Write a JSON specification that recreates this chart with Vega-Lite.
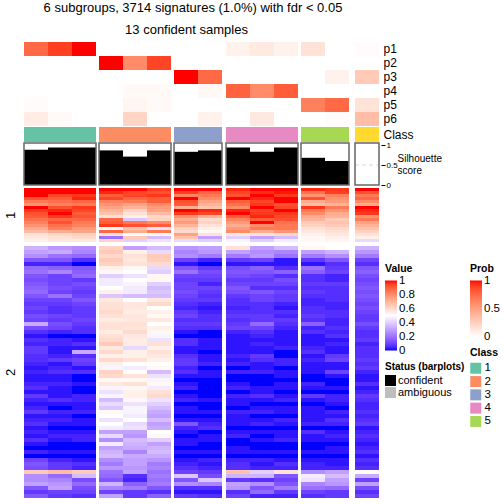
{"$schema":"https://vega.github.io/schema/vega-lite/v6.json","width":504,"height":504,"padding":0,"autosize":"none","background":"white",
"config":{"font":"Liberation Sans","view":{"stroke":null},"axis":{"grid":false},"legend":{"titleFontSize":10.5,"titleFontWeight":"bold","labelFontSize":11.5,"titleColor":"black","labelColor":"black","labelOverlap":false}},
"title":{"text":"6 subgroups, 3714 signatures (1.0%) with fdr < 0.05","fontSize":13,"fontWeight":"normal","offset":-15,"anchor":"middle","dx":-59},
"datasets":{
"g":[{"g":1,"f":1,"l":3},{"g":2,"f":4,"l":6},{"g":3,"f":7,"l":8},{"g":4,"f":9,"l":11},{"g":5,"f":12,"l":13},{"g":6,"f":14,"l":14}],
"p":[{"p":"p1","s":1,"v":0.75},{"p":"p1","s":2,"v":0.9},{"p":"p1","s":3,"v":1},{"p":"p1","s":9,"v":0.07},{"p":"p1","s":10,"v":0.11},{"p":"p1","s":11,"v":0.07},{"p":"p1","s":12,"v":0.15},{"p":"p1","s":14,"v":0.02},
{"p":"p2","s":4,"v":1},{"p":"p2","s":5,"v":0.6},{"p":"p2","s":6,"v":0.88},
{"p":"p3","s":7,"v":1},{"p":"p3","s":8,"v":0.75},{"p":"p3","s":13,"v":0.07},{"p":"p3","s":14,"v":0.28},
{"p":"p4","s":5,"v":0.03},{"p":"p4","s":6,"v":0.03},{"p":"p4","s":8,"v":0.04},{"p":"p4","s":9,"v":0.78},{"p":"p4","s":10,"v":0.6},{"p":"p4","s":11,"v":0.8},
{"p":"p5","s":1,"v":0.02},{"p":"p5","s":5,"v":0.05},{"p":"p5","s":6,"v":0.03},{"p":"p5","s":12,"v":0.65},{"p":"p5","s":13,"v":0.75},{"p":"p5","s":14,"v":0.15},
{"p":"p6","s":1,"v":0.1},{"p":"p6","s":2,"v":0.03},{"p":"p6","s":5,"v":0.22},{"p":"p6","s":8,"v":0.07},{"p":"p6","s":10,"v":0.12},{"p":"p6","s":13,"v":0.02},{"p":"p6","s":14,"v":0.35}],
"sil":[{"s":1,"v":0.88,"st":"confident"},{"s":2,"v":0.94,"st":"confident"},{"s":3,"v":0.94,"st":"confident"},{"s":4,"v":0.865,"st":"confident"},{"s":5,"v":0.71,"st":"confident"},{"s":6,"v":0.865,"st":"confident"},{"s":7,"v":0.83,"st":"confident"},{"s":8,"v":0.865,"st":"confident"},{"s":9,"v":0.94,"st":"confident"},{"s":10,"v":0.83,"st":"confident"},{"s":11,"v":0.94,"st":"confident"},{"s":12,"v":0.68,"st":"confident"},{"s":13,"v":0.6,"st":"confident"},{"s":14,"v":0,"st":"confident"}],
"h1":[
{"s":1,"r":1,"v":100},{"s":2,"r":1,"v":100},{"s":3,"r":1,"v":100},{"s":4,"r":1,"v":100},{"s":5,"r":1,"v":100},{"s":6,"r":1,"v":96},{"s":7,"r":1,"v":100},{"s":8,"r":1,"v":100},{"s":9,"r":1,"v":98},{"s":10,"r":1,"v":100},{"s":11,"r":1,"v":100},{"s":12,"r":1,"v":98},{"s":13,"r":1,"v":96},{"s":14,"r":1,"v":100},
{"s":1,"r":2,"v":100},{"s":2,"r":2,"v":100},{"s":3,"r":2,"v":100},{"s":4,"r":2,"v":98},{"s":5,"r":2,"v":94},{"s":6,"r":2,"v":92},{"s":7,"r":2,"v":95},{"s":8,"r":2,"v":88},{"s":9,"r":2,"v":94},{"s":10,"r":2,"v":97},{"s":11,"r":2,"v":99},{"s":12,"r":2,"v":85},{"s":13,"r":2,"v":95},{"s":14,"r":2,"v":92},
{"s":1,"r":3,"v":100},{"s":2,"r":3,"v":94},{"s":3,"r":3,"v":96},{"s":4,"r":3,"v":90},{"s":5,"r":3,"v":94},{"s":6,"r":3,"v":96},{"s":7,"r":3,"v":82},{"s":8,"r":3,"v":84},{"s":9,"r":3,"v":92},{"s":10,"r":3,"v":100},{"s":11,"r":3,"v":96},{"s":12,"r":3,"v":78},{"s":13,"r":3,"v":82},{"s":14,"r":3,"v":84},
{"s":1,"r":4,"v":92},{"s":2,"r":4,"v":90},{"s":3,"r":4,"v":98},{"s":4,"r":4,"v":94},{"s":5,"r":4,"v":88},{"s":6,"r":4,"v":90},{"s":7,"r":4,"v":100},{"s":8,"r":4,"v":80},{"s":9,"r":4,"v":100},{"s":10,"r":4,"v":98},{"s":11,"r":4,"v":100},{"s":12,"r":4,"v":92},{"s":13,"r":4,"v":78},{"s":14,"r":4,"v":88},
{"s":1,"r":5,"v":84},{"s":2,"r":5,"v":86},{"s":3,"r":5,"v":88},{"s":4,"r":5,"v":82},{"s":5,"r":5,"v":84},{"s":6,"r":5,"v":90},{"s":7,"r":5,"v":92},{"s":8,"r":5,"v":74},{"s":9,"r":5,"v":90},{"s":10,"r":5,"v":94},{"s":11,"r":5,"v":100},{"s":12,"r":5,"v":72},{"s":13,"r":5,"v":76},{"s":14,"r":5,"v":80},
{"s":1,"r":6,"v":78},{"s":2,"r":6,"v":82},{"s":3,"r":6,"v":84},{"s":4,"r":6,"v":78},{"s":5,"r":6,"v":74},{"s":6,"r":6,"v":80},{"s":7,"r":6,"v":90},{"s":8,"r":6,"v":70},{"s":9,"r":6,"v":86},{"s":10,"r":6,"v":96},{"s":11,"r":6,"v":92},{"s":12,"r":6,"v":68},{"s":13,"r":6,"v":70},{"s":14,"r":6,"v":72},
{"s":1,"r":7,"v":100},{"s":2,"r":7,"v":92},{"s":3,"r":7,"v":96},{"s":4,"r":7,"v":74},{"s":5,"r":7,"v":70},{"s":6,"r":7,"v":76},{"s":7,"r":7,"v":72},{"s":8,"r":7,"v":66},{"s":9,"r":7,"v":80},{"s":10,"r":7,"v":100},{"s":11,"r":7,"v":94},{"s":12,"r":7,"v":96},{"s":13,"r":7,"v":84},{"s":14,"r":7,"v":100},
{"s":1,"r":8,"v":96},{"s":2,"r":8,"v":98},{"s":3,"r":8,"v":94},{"s":4,"r":8,"v":70},{"s":5,"r":8,"v":62},{"s":6,"r":8,"v":74},{"s":7,"r":8,"v":100},{"s":8,"r":8,"v":98},{"s":9,"r":8,"v":98},{"s":10,"r":8,"v":94},{"s":11,"r":8,"v":100},{"s":12,"r":8,"v":84},{"s":13,"r":8,"v":78},{"s":14,"r":8,"v":98},
{"s":1,"r":9,"v":92},{"s":2,"r":9,"v":100},{"s":3,"r":9,"v":90},{"s":4,"r":9,"v":66},{"s":5,"r":9,"v":58},{"s":6,"r":9,"v":68},{"s":7,"r":9,"v":96},{"s":8,"r":9,"v":94},{"s":9,"r":9,"v":100},{"s":10,"r":9,"v":96},{"s":11,"r":9,"v":96},{"s":12,"r":9,"v":80},{"s":13,"r":9,"v":72},{"s":14,"r":9,"v":96},
{"s":1,"r":10,"v":90},{"s":2,"r":10,"v":96},{"s":3,"r":10,"v":92},{"s":4,"r":10,"v":58},{"s":5,"r":10,"v":54},{"s":6,"r":10,"v":60},{"s":7,"r":10,"v":78},{"s":8,"r":10,"v":70},{"s":9,"r":10,"v":90},{"s":10,"r":10,"v":98},{"s":11,"r":10,"v":94},{"s":12,"r":10,"v":72},{"s":13,"r":10,"v":70},{"s":14,"r":10,"v":78},
{"s":1,"r":11,"v":86},{"s":2,"r":11,"v":88},{"s":3,"r":11,"v":88},{"s":4,"r":11,"v":88},{"s":5,"r":11,"v":38},{"s":6,"r":11,"v":62},{"s":7,"r":11,"v":72},{"s":8,"r":11,"v":60},{"s":9,"r":11,"v":82},{"s":10,"r":11,"v":90},{"s":11,"r":11,"v":92},{"s":12,"r":11,"v":70},{"s":13,"r":11,"v":64},{"s":14,"r":11,"v":84},
{"s":1,"r":12,"v":82},{"s":2,"r":12,"v":92},{"s":3,"r":12,"v":84},{"s":4,"r":12,"v":90},{"s":5,"r":12,"v":84},{"s":6,"r":12,"v":80},{"s":7,"r":12,"v":76},{"s":8,"r":12,"v":62},{"s":9,"r":12,"v":76},{"s":10,"r":12,"v":100},{"s":11,"r":12,"v":86},{"s":12,"r":12,"v":64},{"s":13,"r":12,"v":66},{"s":14,"r":12,"v":74},
{"s":1,"r":13,"v":78},{"s":2,"r":13,"v":86},{"s":3,"r":13,"v":82},{"s":4,"r":13,"v":96},{"s":5,"r":13,"v":92},{"s":6,"r":13,"v":90},{"s":7,"r":13,"v":70},{"s":8,"r":13,"v":58},{"s":9,"r":13,"v":72},{"s":10,"r":13,"v":80},{"s":11,"r":13,"v":84},{"s":12,"r":13,"v":62},{"s":13,"r":13,"v":64},{"s":14,"r":13,"v":70},
{"s":1,"r":14,"v":72},{"s":2,"r":14,"v":82},{"s":3,"r":14,"v":76},{"s":4,"r":14,"v":52},{"s":5,"r":14,"v":66},{"s":6,"r":14,"v":44},{"s":7,"r":14,"v":62},{"s":8,"r":14,"v":54},{"s":9,"r":14,"v":76},{"s":10,"r":14,"v":84},{"s":11,"r":14,"v":84},{"s":12,"r":14,"v":58},{"s":13,"r":14,"v":60},{"s":14,"r":14,"v":66},
{"s":1,"r":15,"v":68},{"s":2,"r":15,"v":72},{"s":3,"r":15,"v":74},{"s":4,"r":15,"v":88},{"s":5,"r":15,"v":72},{"s":6,"r":15,"v":84},{"s":7,"r":15,"v":60},{"s":8,"r":15,"v":52},{"s":9,"r":15,"v":80},{"s":10,"r":15,"v":72},{"s":11,"r":15,"v":78},{"s":12,"r":15,"v":56},{"s":13,"r":15,"v":58},{"s":14,"r":15,"v":62},
{"s":1,"r":16,"v":58},{"s":2,"r":16,"v":60},{"s":3,"r":16,"v":62},{"s":4,"r":16,"v":58},{"s":5,"r":16,"v":50},{"s":6,"r":16,"v":52},{"s":7,"r":16,"v":74},{"s":8,"r":16,"v":58},{"s":9,"r":16,"v":56},{"s":10,"r":16,"v":58},{"s":11,"r":16,"v":60},{"s":12,"r":16,"v":54},{"s":13,"r":16,"v":56},{"s":14,"r":16,"v":58},
{"s":1,"r":17,"v":56},{"s":2,"r":17,"v":58},{"s":3,"r":17,"v":60},{"s":4,"r":17,"v":20},{"s":5,"r":17,"v":64},{"s":6,"r":17,"v":36},{"s":7,"r":17,"v":66},{"s":8,"r":17,"v":30},{"s":9,"r":17,"v":40},{"s":10,"r":17,"v":30},{"s":11,"r":17,"v":36},{"s":12,"r":17,"v":52},{"s":13,"r":17,"v":54},{"s":14,"r":17,"v":54},
{"s":1,"r":18,"v":54},{"s":2,"r":18,"v":56},{"s":3,"r":18,"v":56},{"s":4,"r":18,"v":62},{"s":5,"r":18,"v":40},{"s":6,"r":18,"v":44},{"s":7,"r":18,"v":42},{"s":8,"r":18,"v":40},{"s":9,"r":18,"v":48},{"s":10,"r":18,"v":40},{"s":11,"r":18,"v":46},{"s":12,"r":18,"v":52},{"s":13,"r":18,"v":53},{"s":14,"r":18,"v":42}],
"h2":[
{"s":1,"r":1,"v":34},{"s":2,"r":1,"v":28},{"s":3,"r":1,"v":26},{"s":4,"r":1,"v":62},{"s":5,"r":1,"v":30},{"s":6,"r":1,"v":36},{"s":7,"r":1,"v":28},{"s":8,"r":1,"v":30},{"s":9,"r":1,"v":58},{"s":10,"r":1,"v":30},{"s":11,"r":1,"v":36},{"s":12,"r":1,"v":52},{"s":13,"r":1,"v":50},{"s":14,"r":1,"v":34},
{"s":1,"r":2,"v":30},{"s":2,"r":2,"v":32},{"s":3,"r":2,"v":24},{"s":4,"r":2,"v":64},{"s":5,"r":2,"v":54},{"s":6,"r":2,"v":42},{"s":7,"r":2,"v":24},{"s":8,"r":2,"v":28},{"s":9,"r":2,"v":30},{"s":10,"r":2,"v":26},{"s":11,"r":2,"v":24},{"s":12,"r":2,"v":30},{"s":13,"r":2,"v":34},{"s":14,"r":2,"v":28},
{"s":1,"r":3,"v":26},{"s":2,"r":3,"v":20},{"s":3,"r":3,"v":18},{"s":4,"r":3,"v":60},{"s":5,"r":3,"v":58},{"s":6,"r":3,"v":64},{"s":7,"r":3,"v":26},{"s":8,"r":3,"v":22},{"s":9,"r":3,"v":22},{"s":10,"r":3,"v":28},{"s":11,"r":3,"v":20},{"s":12,"r":3,"v":22},{"s":13,"r":3,"v":26},{"s":14,"r":3,"v":22},
{"s":1,"r":4,"v":14},{"s":2,"r":4,"v":14},{"s":3,"r":4,"v":6},{"s":4,"r":4,"v":64},{"s":5,"r":4,"v":56},{"s":6,"r":4,"v":63},{"s":7,"r":4,"v":10},{"s":8,"r":4,"v":4},{"s":9,"r":4,"v":8},{"s":10,"r":4,"v":10},{"s":11,"r":4,"v":2},{"s":12,"r":4,"v":8},{"s":13,"r":4,"v":14},{"s":14,"r":4,"v":10},
{"s":1,"r":5,"v":4},{"s":2,"r":5,"v":4},{"s":3,"r":5,"v":0},{"s":4,"r":5,"v":62},{"s":5,"r":5,"v":58},{"s":6,"r":5,"v":60},{"s":7,"r":5,"v":2},{"s":8,"r":5,"v":0},{"s":9,"r":5,"v":2},{"s":10,"r":5,"v":2},{"s":11,"r":5,"v":2},{"s":12,"r":5,"v":2},{"s":13,"r":5,"v":6},{"s":14,"r":5,"v":6},
{"s":1,"r":6,"v":18},{"s":2,"r":6,"v":16},{"s":3,"r":6,"v":14},{"s":4,"r":6,"v":54},{"s":5,"r":6,"v":52},{"s":6,"r":6,"v":42},{"s":7,"r":6,"v":14},{"s":8,"r":6,"v":8},{"s":9,"r":6,"v":12},{"s":10,"r":6,"v":16},{"s":11,"r":6,"v":6},{"s":12,"r":6,"v":20},{"s":13,"r":6,"v":8},{"s":14,"r":6,"v":14},
{"s":1,"r":7,"v":20},{"s":2,"r":7,"v":24},{"s":3,"r":7,"v":16},{"s":4,"r":7,"v":52},{"s":5,"r":7,"v":50},{"s":6,"r":7,"v":40},{"s":7,"r":7,"v":20},{"s":8,"r":7,"v":12},{"s":9,"r":7,"v":14},{"s":10,"r":7,"v":14},{"s":11,"r":7,"v":16},{"s":12,"r":7,"v":16},{"s":13,"r":7,"v":10},{"s":14,"r":7,"v":16},
{"s":1,"r":8,"v":14},{"s":2,"r":8,"v":10},{"s":3,"r":8,"v":18},{"s":4,"r":8,"v":40},{"s":5,"r":8,"v":44},{"s":6,"r":8,"v":52},{"s":7,"r":8,"v":10},{"s":8,"r":8,"v":10},{"s":9,"r":8,"v":12},{"s":10,"r":8,"v":10},{"s":11,"r":8,"v":6},{"s":12,"r":8,"v":6},{"s":13,"r":8,"v":4},{"s":14,"r":8,"v":12},
{"s":1,"r":9,"v":12},{"s":2,"r":9,"v":10},{"s":3,"r":9,"v":8},{"s":4,"r":9,"v":46},{"s":5,"r":9,"v":50},{"s":6,"r":9,"v":52},{"s":7,"r":9,"v":8},{"s":8,"r":9,"v":8},{"s":9,"r":9,"v":8},{"s":10,"r":9,"v":8},{"s":11,"r":9,"v":12},{"s":12,"r":9,"v":6},{"s":13,"r":9,"v":4},{"s":14,"r":9,"v":10},
{"s":1,"r":10,"v":14},{"s":2,"r":10,"v":10},{"s":3,"r":10,"v":12},{"s":4,"r":10,"v":46},{"s":5,"r":10,"v":48},{"s":6,"r":10,"v":40},{"s":7,"r":10,"v":10},{"s":8,"r":10,"v":4},{"s":9,"r":10,"v":10},{"s":10,"r":10,"v":10},{"s":11,"r":10,"v":10},{"s":12,"r":10,"v":8},{"s":13,"r":10,"v":8},{"s":14,"r":10,"v":12},
{"s":1,"r":11,"v":16},{"s":2,"r":11,"v":12},{"s":3,"r":11,"v":10},{"s":4,"r":11,"v":50},{"s":5,"r":11,"v":46},{"s":6,"r":11,"v":36},{"s":7,"r":11,"v":10},{"s":8,"r":11,"v":10},{"s":9,"r":11,"v":14},{"s":10,"r":11,"v":6},{"s":11,"r":11,"v":6},{"s":12,"r":11,"v":6},{"s":13,"r":11,"v":6},{"s":14,"r":11,"v":14},
{"s":1,"r":12,"v":18},{"s":2,"r":12,"v":10},{"s":3,"r":12,"v":8},{"s":4,"r":12,"v":54},{"s":5,"r":12,"v":46},{"s":6,"r":12,"v":38},{"s":7,"r":12,"v":12},{"s":8,"r":12,"v":8},{"s":9,"r":12,"v":12},{"s":10,"r":12,"v":14},{"s":11,"r":12,"v":10},{"s":12,"r":12,"v":8},{"s":13,"r":12,"v":6},{"s":14,"r":12,"v":12},
{"s":1,"r":13,"v":14},{"s":2,"r":13,"v":20},{"s":3,"r":13,"v":10},{"s":4,"r":13,"v":38},{"s":5,"r":13,"v":36},{"s":6,"r":13,"v":36},{"s":7,"r":13,"v":10},{"s":8,"r":13,"v":6},{"s":9,"r":13,"v":8},{"s":10,"r":13,"v":10},{"s":11,"r":13,"v":8},{"s":12,"r":13,"v":6},{"s":13,"r":13,"v":6},{"s":14,"r":13,"v":14},
{"s":1,"r":14,"v":10},{"s":2,"r":14,"v":10},{"s":3,"r":14,"v":14},{"s":4,"r":14,"v":56},{"s":5,"r":14,"v":50},{"s":6,"r":14,"v":56},{"s":7,"r":14,"v":8},{"s":8,"r":14,"v":8},{"s":9,"r":14,"v":6},{"s":10,"r":14,"v":10},{"s":11,"r":14,"v":8},{"s":12,"r":14,"v":4},{"s":13,"r":14,"v":6},{"s":14,"r":14,"v":12},
{"s":1,"r":15,"v":8},{"s":2,"r":15,"v":8},{"s":3,"r":15,"v":10},{"s":4,"r":15,"v":58},{"s":5,"r":15,"v":56},{"s":6,"r":15,"v":60},{"s":7,"r":15,"v":6},{"s":8,"r":15,"v":4},{"s":9,"r":15,"v":6},{"s":10,"r":15,"v":6},{"s":11,"r":15,"v":4},{"s":12,"r":15,"v":4},{"s":13,"r":15,"v":4},{"s":14,"r":15,"v":10},
{"s":1,"r":16,"v":10},{"s":2,"r":16,"v":6},{"s":3,"r":16,"v":8},{"s":4,"r":16,"v":58},{"s":5,"r":16,"v":56},{"s":6,"r":16,"v":50},{"s":7,"r":16,"v":4},{"s":8,"r":16,"v":2},{"s":9,"r":16,"v":4},{"s":10,"r":16,"v":6},{"s":11,"r":16,"v":2},{"s":12,"r":16,"v":6},{"s":13,"r":16,"v":4},{"s":14,"r":16,"v":12},
{"s":1,"r":17,"v":8},{"s":2,"r":17,"v":6},{"s":3,"r":17,"v":8},{"s":4,"r":17,"v":60},{"s":5,"r":17,"v":55},{"s":6,"r":17,"v":54},{"s":7,"r":17,"v":8},{"s":8,"r":17,"v":4},{"s":9,"r":17,"v":6},{"s":10,"r":17,"v":6},{"s":11,"r":17,"v":6},{"s":12,"r":17,"v":6},{"s":13,"r":17,"v":6},{"s":14,"r":17,"v":10},
{"s":1,"r":18,"v":12},{"s":2,"r":18,"v":10},{"s":3,"r":18,"v":8},{"s":4,"r":18,"v":58},{"s":5,"r":18,"v":57},{"s":6,"r":18,"v":52},{"s":7,"r":18,"v":10},{"s":8,"r":18,"v":6},{"s":9,"r":18,"v":8},{"s":10,"r":18,"v":8},{"s":11,"r":18,"v":4},{"s":12,"r":18,"v":8},{"s":13,"r":18,"v":6},{"s":14,"r":18,"v":8},
{"s":1,"r":19,"v":10},{"s":2,"r":19,"v":8},{"s":3,"r":19,"v":10},{"s":4,"r":19,"v":55},{"s":5,"r":19,"v":56},{"s":6,"r":19,"v":56},{"s":7,"r":19,"v":6},{"s":8,"r":19,"v":6},{"s":9,"r":19,"v":6},{"s":10,"r":19,"v":8},{"s":11,"r":19,"v":8},{"s":12,"r":19,"v":6},{"s":13,"r":19,"v":4},{"s":14,"r":19,"v":8},
{"s":1,"r":20,"v":32},{"s":2,"r":20,"v":12},{"s":3,"r":20,"v":8},{"s":4,"r":20,"v":58},{"s":5,"r":20,"v":58},{"s":6,"r":20,"v":50},{"s":7,"r":20,"v":8},{"s":8,"r":20,"v":8},{"s":9,"r":20,"v":8},{"s":10,"r":20,"v":18},{"s":11,"r":20,"v":6},{"s":12,"r":20,"v":16},{"s":13,"r":20,"v":4},{"s":14,"r":20,"v":12},
{"s":1,"r":21,"v":12},{"s":2,"r":21,"v":10},{"s":3,"r":21,"v":6},{"s":4,"r":21,"v":58},{"s":5,"r":21,"v":57},{"s":6,"r":21,"v":54},{"s":7,"r":21,"v":6},{"s":8,"r":21,"v":6},{"s":9,"r":21,"v":10},{"s":10,"r":21,"v":10},{"s":11,"r":21,"v":4},{"s":12,"r":21,"v":4},{"s":13,"r":21,"v":6},{"s":14,"r":21,"v":8},
{"s":1,"r":22,"v":6},{"s":2,"r":22,"v":4},{"s":3,"r":22,"v":6},{"s":4,"r":22,"v":55},{"s":5,"r":22,"v":60},{"s":6,"r":22,"v":52},{"s":7,"r":22,"v":2},{"s":8,"r":22,"v":0},{"s":9,"r":22,"v":4},{"s":10,"r":22,"v":6},{"s":11,"r":22,"v":2},{"s":12,"r":22,"v":6},{"s":13,"r":22,"v":4},{"s":14,"r":22,"v":6},
{"s":1,"r":23,"v":2},{"s":2,"r":23,"v":0},{"s":3,"r":23,"v":0},{"s":4,"r":23,"v":58},{"s":5,"r":23,"v":56},{"s":6,"r":23,"v":48},{"s":7,"r":23,"v":0},{"s":8,"r":23,"v":0},{"s":9,"r":23,"v":2},{"s":10,"r":23,"v":4},{"s":11,"r":23,"v":2},{"s":12,"r":23,"v":2},{"s":13,"r":23,"v":6},{"s":14,"r":23,"v":6},
{"s":1,"r":24,"v":6},{"s":2,"r":24,"v":4},{"s":3,"r":24,"v":2},{"s":4,"r":24,"v":60},{"s":5,"r":24,"v":55},{"s":6,"r":24,"v":44},{"s":7,"r":24,"v":6},{"s":8,"r":24,"v":2},{"s":9,"r":24,"v":2},{"s":10,"r":24,"v":2},{"s":11,"r":24,"v":2},{"s":12,"r":24,"v":2},{"s":13,"r":24,"v":2},{"s":14,"r":24,"v":8},
{"s":1,"r":25,"v":4},{"s":2,"r":25,"v":4},{"s":3,"r":25,"v":6},{"s":4,"r":25,"v":64},{"s":5,"r":25,"v":55},{"s":6,"r":25,"v":58},{"s":7,"r":25,"v":6},{"s":8,"r":25,"v":2},{"s":9,"r":25,"v":2},{"s":10,"r":25,"v":4},{"s":11,"r":25,"v":2},{"s":12,"r":25,"v":2},{"s":13,"r":25,"v":4},{"s":14,"r":25,"v":4},
{"s":1,"r":26,"v":8},{"s":2,"r":26,"v":2},{"s":3,"r":26,"v":2},{"s":4,"r":26,"v":56},{"s":5,"r":26,"v":42},{"s":6,"r":26,"v":54},{"s":7,"r":26,"v":2},{"s":8,"r":26,"v":2},{"s":9,"r":26,"v":2},{"s":10,"r":26,"v":2},{"s":11,"r":26,"v":4},{"s":12,"r":26,"v":4},{"s":13,"r":26,"v":2},{"s":14,"r":26,"v":6},
{"s":1,"r":27,"v":8},{"s":2,"r":27,"v":2},{"s":3,"r":27,"v":32},{"s":4,"r":27,"v":60},{"s":5,"r":27,"v":54},{"s":6,"r":27,"v":58},{"s":7,"r":27,"v":2},{"s":8,"r":27,"v":0},{"s":9,"r":27,"v":2},{"s":10,"r":27,"v":2},{"s":11,"r":27,"v":0},{"s":12,"r":27,"v":6},{"s":13,"r":27,"v":2},{"s":14,"r":27,"v":6},
{"s":1,"r":28,"v":6},{"s":2,"r":28,"v":4},{"s":3,"r":28,"v":6},{"s":4,"r":28,"v":54},{"s":5,"r":28,"v":54},{"s":6,"r":28,"v":56},{"s":7,"r":28,"v":6},{"s":8,"r":28,"v":2},{"s":9,"r":28,"v":4},{"s":10,"r":28,"v":8},{"s":11,"r":28,"v":0},{"s":12,"r":28,"v":2},{"s":13,"r":28,"v":8},{"s":14,"r":28,"v":6},
{"s":1,"r":29,"v":6},{"s":2,"r":29,"v":8},{"s":3,"r":29,"v":10},{"s":4,"r":29,"v":60},{"s":5,"r":29,"v":58},{"s":6,"r":29,"v":54},{"s":7,"r":29,"v":8},{"s":8,"r":29,"v":2},{"s":9,"r":29,"v":2},{"s":10,"r":29,"v":6},{"s":11,"r":29,"v":4},{"s":12,"r":29,"v":4},{"s":13,"r":29,"v":10},{"s":14,"r":29,"v":8},
{"s":1,"r":30,"v":4},{"s":2,"r":30,"v":2},{"s":3,"r":30,"v":8},{"s":4,"r":30,"v":54},{"s":5,"r":30,"v":50},{"s":6,"r":30,"v":50},{"s":7,"r":30,"v":8},{"s":8,"r":30,"v":4},{"s":9,"r":30,"v":4},{"s":10,"r":30,"v":2},{"s":11,"r":30,"v":4},{"s":12,"r":30,"v":2},{"s":13,"r":30,"v":2},{"s":14,"r":30,"v":6},
{"s":1,"r":31,"v":2},{"s":2,"r":31,"v":4},{"s":3,"r":31,"v":2},{"s":4,"r":31,"v":48},{"s":5,"r":31,"v":46},{"s":6,"r":31,"v":52},{"s":7,"r":31,"v":4},{"s":8,"r":31,"v":0},{"s":9,"r":31,"v":0},{"s":10,"r":31,"v":2},{"s":11,"r":31,"v":0},{"s":12,"r":31,"v":2},{"s":13,"r":31,"v":2},{"s":14,"r":31,"v":8},
{"s":1,"r":32,"v":4},{"s":2,"r":32,"v":6},{"s":3,"r":32,"v":6},{"s":4,"r":32,"v":62},{"s":5,"r":32,"v":50},{"s":6,"r":32,"v":36},{"s":7,"r":32,"v":6},{"s":8,"r":32,"v":2},{"s":9,"r":32,"v":4},{"s":10,"r":32,"v":4},{"s":11,"r":32,"v":2},{"s":12,"r":32,"v":2},{"s":13,"r":32,"v":10},{"s":14,"r":32,"v":4},
{"s":1,"r":33,"v":2},{"s":2,"r":33,"v":2},{"s":3,"r":33,"v":0},{"s":4,"r":33,"v":60},{"s":5,"r":33,"v":58},{"s":6,"r":33,"v":44},{"s":7,"r":33,"v":2},{"s":8,"r":33,"v":2},{"s":9,"r":33,"v":0},{"s":10,"r":33,"v":0},{"s":11,"r":33,"v":2},{"s":12,"r":33,"v":0},{"s":13,"r":33,"v":2},{"s":14,"r":33,"v":2},
{"s":1,"r":34,"v":2},{"s":2,"r":34,"v":2},{"s":3,"r":34,"v":0},{"s":4,"r":34,"v":52},{"s":5,"r":34,"v":52},{"s":6,"r":34,"v":48},{"s":7,"r":34,"v":0},{"s":8,"r":34,"v":0},{"s":9,"r":34,"v":0},{"s":10,"r":34,"v":0},{"s":11,"r":34,"v":0},{"s":12,"r":34,"v":0},{"s":13,"r":34,"v":0},{"s":14,"r":34,"v":2},
{"s":1,"r":35,"v":4},{"s":2,"r":35,"v":4},{"s":3,"r":35,"v":2},{"s":4,"r":35,"v":56},{"s":5,"r":35,"v":58},{"s":6,"r":35,"v":52},{"s":7,"r":35,"v":2},{"s":8,"r":35,"v":0},{"s":9,"r":35,"v":2},{"s":10,"r":35,"v":0},{"s":11,"r":35,"v":2},{"s":12,"r":35,"v":4},{"s":13,"r":35,"v":0},{"s":14,"r":35,"v":6},
{"s":1,"r":36,"v":6},{"s":2,"r":36,"v":2},{"s":3,"r":36,"v":0},{"s":4,"r":36,"v":48},{"s":5,"r":36,"v":52},{"s":6,"r":36,"v":46},{"s":7,"r":36,"v":4},{"s":8,"r":36,"v":0},{"s":9,"r":36,"v":4},{"s":10,"r":36,"v":2},{"s":11,"r":36,"v":2},{"s":12,"r":36,"v":2},{"s":13,"r":36,"v":2},{"s":14,"r":36,"v":2},
{"s":1,"r":37,"v":2},{"s":2,"r":37,"v":2},{"s":3,"r":37,"v":0},{"s":4,"r":37,"v":44},{"s":5,"r":37,"v":54},{"s":6,"r":37,"v":58},{"s":7,"r":37,"v":0},{"s":8,"r":37,"v":0},{"s":9,"r":37,"v":0},{"s":10,"r":37,"v":2},{"s":11,"r":37,"v":0},{"s":12,"r":37,"v":0},{"s":13,"r":37,"v":0},{"s":14,"r":37,"v":4},
{"s":1,"r":38,"v":8},{"s":2,"r":38,"v":2},{"s":3,"r":38,"v":4},{"s":4,"r":38,"v":48},{"s":5,"r":38,"v":54},{"s":6,"r":38,"v":60},{"s":7,"r":38,"v":2},{"s":8,"r":38,"v":0},{"s":9,"r":38,"v":4},{"s":10,"r":38,"v":6},{"s":11,"r":38,"v":2},{"s":12,"r":38,"v":8},{"s":13,"r":38,"v":4},{"s":14,"r":38,"v":8},
{"s":1,"r":39,"v":4},{"s":2,"r":39,"v":6},{"s":3,"r":39,"v":4},{"s":4,"r":39,"v":36},{"s":5,"r":39,"v":52},{"s":6,"r":39,"v":44},{"s":7,"r":39,"v":4},{"s":8,"r":39,"v":2},{"s":9,"r":39,"v":2},{"s":10,"r":39,"v":2},{"s":11,"r":39,"v":4},{"s":12,"r":39,"v":2},{"s":13,"r":39,"v":4},{"s":14,"r":39,"v":6},
{"s":1,"r":40,"v":2},{"s":2,"r":40,"v":2},{"s":3,"r":40,"v":2},{"s":4,"r":40,"v":42},{"s":5,"r":40,"v":44},{"s":6,"r":40,"v":40},{"s":7,"r":40,"v":0},{"s":8,"r":40,"v":0},{"s":9,"r":40,"v":2},{"s":10,"r":40,"v":0},{"s":11,"r":40,"v":0},{"s":12,"r":40,"v":0},{"s":13,"r":40,"v":2},{"s":14,"r":40,"v":4},
{"s":1,"r":41,"v":4},{"s":2,"r":41,"v":0},{"s":3,"r":41,"v":2},{"s":4,"r":41,"v":38},{"s":5,"r":41,"v":48},{"s":6,"r":41,"v":36},{"s":7,"r":41,"v":2},{"s":8,"r":41,"v":0},{"s":9,"r":41,"v":0},{"s":10,"r":41,"v":2},{"s":11,"r":41,"v":2},{"s":12,"r":41,"v":2},{"s":13,"r":41,"v":0},{"s":14,"r":41,"v":4},
{"s":1,"r":42,"v":8},{"s":2,"r":42,"v":4},{"s":3,"r":42,"v":4},{"s":4,"r":42,"v":52},{"s":5,"r":42,"v":48},{"s":6,"r":42,"v":32},{"s":7,"r":42,"v":2},{"s":8,"r":42,"v":2},{"s":9,"r":42,"v":4},{"s":10,"r":42,"v":4},{"s":11,"r":42,"v":2},{"s":12,"r":42,"v":2},{"s":13,"r":42,"v":4},{"s":14,"r":42,"v":6},
{"s":1,"r":43,"v":2},{"s":2,"r":43,"v":2},{"s":3,"r":43,"v":0},{"s":4,"r":43,"v":50},{"s":5,"r":43,"v":46},{"s":6,"r":43,"v":30},{"s":7,"r":43,"v":0},{"s":8,"r":43,"v":0},{"s":9,"r":43,"v":2},{"s":10,"r":43,"v":0},{"s":11,"r":43,"v":0},{"s":12,"r":43,"v":2},{"s":13,"r":43,"v":2},{"s":14,"r":43,"v":4},
{"s":1,"r":44,"v":4},{"s":2,"r":44,"v":4},{"s":3,"r":44,"v":2},{"s":4,"r":44,"v":44},{"s":5,"r":44,"v":50},{"s":6,"r":44,"v":36},{"s":7,"r":44,"v":2},{"s":8,"r":44,"v":2},{"s":9,"r":44,"v":2},{"s":10,"r":44,"v":2},{"s":11,"r":44,"v":4},{"s":12,"r":44,"v":2},{"s":13,"r":44,"v":6},{"s":14,"r":44,"v":6},
{"s":1,"r":45,"v":6},{"s":2,"r":45,"v":2},{"s":3,"r":45,"v":2},{"s":4,"r":45,"v":50},{"s":5,"r":45,"v":42},{"s":6,"r":45,"v":30},{"s":7,"r":45,"v":14},{"s":8,"r":45,"v":4},{"s":9,"r":45,"v":2},{"s":10,"r":45,"v":4},{"s":11,"r":45,"v":2},{"s":12,"r":45,"v":4},{"s":13,"r":45,"v":4},{"s":14,"r":45,"v":8},
{"s":1,"r":46,"v":2},{"s":2,"r":46,"v":0},{"s":3,"r":46,"v":0},{"s":4,"r":46,"v":46},{"s":5,"r":46,"v":44},{"s":6,"r":46,"v":32},{"s":7,"r":46,"v":4},{"s":8,"r":46,"v":6},{"s":9,"r":46,"v":0},{"s":10,"r":46,"v":0},{"s":11,"r":46,"v":0},{"s":12,"r":46,"v":0},{"s":13,"r":46,"v":0},{"s":14,"r":46,"v":2},
{"s":1,"r":47,"v":4},{"s":2,"r":47,"v":2},{"s":3,"r":47,"v":2},{"s":4,"r":47,"v":30},{"s":5,"r":47,"v":30},{"s":6,"r":47,"v":50},{"s":7,"r":47,"v":2},{"s":8,"r":47,"v":0},{"s":9,"r":47,"v":2},{"s":10,"r":47,"v":2},{"s":11,"r":47,"v":2},{"s":12,"r":47,"v":6},{"s":13,"r":47,"v":2},{"s":14,"r":47,"v":4},
{"s":1,"r":48,"v":2},{"s":2,"r":48,"v":4},{"s":3,"r":48,"v":4},{"s":4,"r":48,"v":42},{"s":5,"r":48,"v":28},{"s":6,"r":48,"v":52},{"s":7,"r":48,"v":0},{"s":8,"r":48,"v":2},{"s":9,"r":48,"v":4},{"s":10,"r":48,"v":0},{"s":11,"r":48,"v":2},{"s":12,"r":48,"v":2},{"s":13,"r":48,"v":4},{"s":14,"r":48,"v":6},
{"s":1,"r":49,"v":6},{"s":2,"r":49,"v":2},{"s":3,"r":49,"v":4},{"s":4,"r":49,"v":26},{"s":5,"r":49,"v":36},{"s":6,"r":49,"v":40},{"s":7,"r":49,"v":2},{"s":8,"r":49,"v":2},{"s":9,"r":49,"v":0},{"s":10,"r":49,"v":2},{"s":11,"r":49,"v":4},{"s":12,"r":49,"v":2},{"s":13,"r":49,"v":2},{"s":14,"r":49,"v":4},
{"s":1,"r":50,"v":2},{"s":2,"r":50,"v":0},{"s":3,"r":50,"v":0},{"s":4,"r":50,"v":46},{"s":5,"r":50,"v":34},{"s":6,"r":50,"v":30},{"s":7,"r":50,"v":2},{"s":8,"r":50,"v":0},{"s":9,"r":50,"v":0},{"s":10,"r":50,"v":0},{"s":11,"r":50,"v":0},{"s":12,"r":50,"v":0},{"s":13,"r":50,"v":0},{"s":14,"r":50,"v":2},
{"s":1,"r":51,"v":0},{"s":2,"r":51,"v":0},{"s":3,"r":51,"v":0},{"s":4,"r":51,"v":30},{"s":5,"r":51,"v":32},{"s":6,"r":51,"v":34},{"s":7,"r":51,"v":0},{"s":8,"r":51,"v":0},{"s":9,"r":51,"v":2},{"s":10,"r":51,"v":0},{"s":11,"r":51,"v":0},{"s":12,"r":51,"v":0},{"s":13,"r":51,"v":2},{"s":14,"r":51,"v":4},
{"s":1,"r":52,"v":4},{"s":2,"r":52,"v":2},{"s":3,"r":52,"v":2},{"s":4,"r":52,"v":34},{"s":5,"r":52,"v":24},{"s":6,"r":52,"v":36},{"s":7,"r":52,"v":2},{"s":8,"r":52,"v":2},{"s":9,"r":52,"v":2},{"s":10,"r":52,"v":2},{"s":11,"r":52,"v":2},{"s":12,"r":52,"v":2},{"s":13,"r":52,"v":2},{"s":14,"r":52,"v":6},
{"s":1,"r":53,"v":0},{"s":2,"r":53,"v":0},{"s":3,"r":53,"v":0},{"s":4,"r":53,"v":36},{"s":5,"r":53,"v":32},{"s":6,"r":53,"v":32},{"s":7,"r":53,"v":0},{"s":8,"r":53,"v":0},{"s":9,"r":53,"v":0},{"s":10,"r":53,"v":0},{"s":11,"r":53,"v":0},{"s":12,"r":53,"v":0},{"s":13,"r":53,"v":0},{"s":14,"r":53,"v":2},
{"s":1,"r":54,"v":10},{"s":2,"r":54,"v":4},{"s":3,"r":54,"v":2},{"s":4,"r":54,"v":26},{"s":5,"r":54,"v":30},{"s":6,"r":54,"v":28},{"s":7,"r":54,"v":2},{"s":8,"r":54,"v":4},{"s":9,"r":54,"v":4},{"s":10,"r":54,"v":4},{"s":11,"r":54,"v":2},{"s":12,"r":54,"v":2},{"s":13,"r":54,"v":2},{"s":14,"r":54,"v":6},
{"s":1,"r":55,"v":14},{"s":2,"r":55,"v":8},{"s":3,"r":55,"v":6},{"s":4,"r":55,"v":22},{"s":5,"r":55,"v":30},{"s":6,"r":55,"v":22},{"s":7,"r":55,"v":4},{"s":8,"r":55,"v":2},{"s":9,"r":55,"v":6},{"s":10,"r":55,"v":2},{"s":11,"r":55,"v":6},{"s":12,"r":55,"v":4},{"s":13,"r":55,"v":2},{"s":14,"r":55,"v":4},
{"s":1,"r":56,"v":12},{"s":2,"r":56,"v":8},{"s":3,"r":56,"v":4},{"s":4,"r":56,"v":28},{"s":5,"r":56,"v":28},{"s":6,"r":56,"v":24},{"s":7,"r":56,"v":6},{"s":8,"r":56,"v":4},{"s":9,"r":56,"v":6},{"s":10,"r":56,"v":4},{"s":11,"r":56,"v":4},{"s":12,"r":56,"v":4},{"s":13,"r":56,"v":4},{"s":14,"r":56,"v":6},
{"s":1,"r":57,"v":64},{"s":2,"r":57,"v":68},{"s":3,"r":57,"v":64},{"s":4,"r":57,"v":20},{"s":5,"r":57,"v":30},{"s":6,"r":57,"v":20},{"s":7,"r":57,"v":10},{"s":8,"r":57,"v":8},{"s":9,"r":57,"v":66},{"s":10,"r":57,"v":40},{"s":11,"r":57,"v":58},{"s":12,"r":57,"v":26},{"s":13,"r":57,"v":30},{"s":14,"r":57,"v":50},
{"s":1,"r":58,"v":26},{"s":2,"r":58,"v":18},{"s":3,"r":58,"v":36},{"s":4,"r":58,"v":18},{"s":5,"r":58,"v":6},{"s":6,"r":58,"v":22},{"s":7,"r":58,"v":38},{"s":8,"r":58,"v":12},{"s":9,"r":58,"v":34},{"s":10,"r":58,"v":34},{"s":11,"r":58,"v":14},{"s":12,"r":58,"v":46},{"s":13,"r":58,"v":36},{"s":14,"r":58,"v":32},
{"s":1,"r":59,"v":26},{"s":2,"r":59,"v":24},{"s":3,"r":59,"v":12},{"s":4,"r":59,"v":14},{"s":5,"r":59,"v":4},{"s":6,"r":59,"v":20},{"s":7,"r":59,"v":14},{"s":8,"r":59,"v":38},{"s":9,"r":59,"v":8},{"s":10,"r":59,"v":6},{"s":11,"r":59,"v":10},{"s":12,"r":59,"v":44},{"s":13,"r":59,"v":30},{"s":14,"r":59,"v":10},
{"s":1,"r":60,"v":30},{"s":2,"r":60,"v":28},{"s":3,"r":60,"v":18},{"s":4,"r":60,"v":34},{"s":5,"r":60,"v":16},{"s":6,"r":60,"v":22},{"s":7,"r":60,"v":26},{"s":8,"r":60,"v":24},{"s":9,"r":60,"v":30},{"s":10,"r":60,"v":26},{"s":11,"r":60,"v":14},{"s":12,"r":60,"v":24},{"s":13,"r":60,"v":28},{"s":14,"r":60,"v":30},
{"s":1,"r":61,"v":14},{"s":2,"r":61,"v":30},{"s":3,"r":61,"v":12},{"s":4,"r":61,"v":24},{"s":5,"r":61,"v":22},{"s":6,"r":61,"v":14},{"s":7,"r":61,"v":6},{"s":8,"r":61,"v":6},{"s":9,"r":61,"v":28},{"s":10,"r":61,"v":14},{"s":11,"r":61,"v":22},{"s":12,"r":61,"v":20},{"s":13,"r":61,"v":18},{"s":14,"r":61,"v":12},
{"s":1,"r":62,"v":8},{"s":2,"r":62,"v":10},{"s":3,"r":62,"v":10},{"s":4,"r":62,"v":10},{"s":5,"r":62,"v":8},{"s":6,"r":62,"v":6},{"s":7,"r":62,"v":2},{"s":8,"r":62,"v":2},{"s":9,"r":62,"v":6},{"s":10,"r":62,"v":18},{"s":11,"r":62,"v":8},{"s":12,"r":62,"v":10},{"s":13,"r":62,"v":8},{"s":14,"r":62,"v":6},
{"s":1,"r":63,"v":14},{"s":2,"r":63,"v":8},{"s":3,"r":63,"v":6},{"s":4,"r":63,"v":30},{"s":5,"r":63,"v":8},{"s":6,"r":63,"v":16},{"s":7,"r":63,"v":8},{"s":8,"r":63,"v":6},{"s":9,"r":63,"v":10},{"s":10,"r":63,"v":4},{"s":11,"r":63,"v":4},{"s":12,"r":63,"v":6},{"s":13,"r":63,"v":8},{"s":14,"r":63,"v":10}]
},
"resolve":{"scale":{"y":"independent","color":"independent"},"axis":{"x":"independent","y":"independent"}},
"layer":[
{"data":{"name":"p"},"transform":[{"calculate":"[0,1,2,3.125,4.125,5.125,6.25,7.25,8.41667,9.41667,10.41667,11.54167,12.54167,13.79167][datum.s-1]","as":"a"},{"calculate":"datum.a+1","as":"b"}],"mark":{"type":"rect"},
"encoding":{"x":{"field":"a","type":"quantitative","scale":{"domain":[0,14.83333],"range":[24,380],"nice":false,"zero":false},"axis":{"orient":"top","labels":false,"ticks":false,"domain":false,"grid":false,"title":"13 confident samples","titleX":186,"titleY":29,"titleFontWeight":"normal","titleFontSize":13,"titleAlign":"center","titleBaseline":"middle","titleColor":"black"}},"x2":{"field":"b"},
"y":{"field":"p","type":"ordinal","scale":{"domain":["p1","p2","p3","p4","p5","p6"],"range":[42,126],"paddingInner":0,"paddingOuter":0},"axis":{"orient":"right","offset":-124,"title":null,"ticks":false,"domain":false,"labelFontSize":12,"labelPadding":3,"labelColor":"black"}},
"color":{"field":"v","type":"quantitative","scale":{"domain":[0,1],"range":["#ffffff","#ff0000"],"interpolate":"lab"},"legend":{"orient":"none","legendX":470,"legendY":264,"title":"Prob","gradientLength":56,"gradientThickness":12,"values":[0,0.5,1],"format":"~g","titlePadding":6,"labelOffset":2,"encoding":{"labels":{"baseline":{"value":"middle"}}}}}}},
{"data":{"name":"g"},"transform":[{"calculate":"[0,1,2,3.125,4.125,5.125,6.25,7.25,8.41667,9.41667,10.41667,11.54167,12.54167,13.79167][datum.f-1]","as":"a"},{"calculate":"[0,1,2,3.125,4.125,5.125,6.25,7.25,8.41667,9.41667,10.41667,11.54167,12.54167,13.79167][datum.l-1]+1","as":"b"}],"mark":{"type":"rect"},
"encoding":{"x":{"field":"a","type":"quantitative","axis":null},"x2":{"field":"b"},
"y":{"datum":"Class","type":"nominal","scale":{"range":[127,142],"paddingInner":0,"paddingOuter":0},"axis":{"orient":"right","offset":-124,"title":null,"ticks":false,"domain":false,"labelFontSize":12,"labelPadding":3,"labelColor":"black"}},
"color":{"field":"g","type":"nominal","scale":{"domain":[1,2,3,4,5,6],"range":["#66C2A5","#FC8D62","#8DA0CB","#E78AC3","#A6D854","#FFD92F"]},"legend":{"orient":"none","legendX":470,"legendY":348,"title":"Class","values":[1,2,3,4,5],"symbolType":"square","symbolSize":121,"symbolStrokeWidth":0,"rowPadding":0.3,"titlePadding":4,"labelOffset":3}}}},
{"data":{"name":"g"},"transform":[{"calculate":"[0,1,2,3.125,4.125,5.125,6.25,7.25,8.41667,9.41667,10.41667,11.54167,12.54167,13.79167][datum.f-1]","as":"a"},{"calculate":"[0,1,2,3.125,4.125,5.125,6.25,7.25,8.41667,9.41667,10.41667,11.54167,12.54167,13.79167][datum.l-1]+1","as":"b"}],"mark":{"type":"rule","color":"#d8d8d8","strokeDash":[4,3],"strokeWidth":1},
"encoding":{"x":{"field":"a","type":"quantitative","axis":null},"x2":{"field":"b"},"y":{"datum":0.5,"type":"quantitative","scale":{"domain":[0,1.05],"range":[185,143],"nice":false},"axis":null}}},
{"data":{"name":"sil"},"transform":[{"calculate":"[0,1,2,3.125,4.125,5.125,6.25,7.25,8.41667,9.41667,10.41667,11.54167,12.54167,13.79167][datum.s-1]","as":"a"},{"calculate":"datum.a+1","as":"b"}],"mark":{"type":"rect"},
"encoding":{"x":{"field":"a","type":"quantitative","axis":null},"x2":{"field":"b"},"y":{"field":"v","type":"quantitative","scale":{"domain":[0,1.05],"range":[185,143],"nice":false},"axis":{"orient":"right","offset":-123,"values":[0,0.5,1],"format":"~g","domain":false,"grid":false,"tickSize":4,"tickColor":"black","labelFontSize":8,"labelPadding":1,"labelColor":"black","labelFlush":false,"labelOverlap":false,"title":["Silhouette","score"],"titleAngle":0,"titleAlign":"left","titleBaseline":"middle","titleFontWeight":"normal","titleFontSize":10,"titleX":16,"titleY":158,"titleLineHeight":12,"titleColor":"black"}},"y2":{"datum":0},
"color":{"field":"st","type":"nominal","scale":{"domain":["confident","ambiguous"],"range":["#000000","#bebebe"]},"legend":{"orient":"none","legendX":385,"legendY":362,"title":"Status (barplots)","titleFontSize":10,"labelFontSize":11,"symbolType":"square","symbolSize":121,"symbolStrokeWidth":0,"rowPadding":0,"titlePadding":3,"labelOffset":2}}}},
{"data":{"name":"g"},"transform":[{"calculate":"[0,1,2,3.125,4.125,5.125,6.25,7.25,8.41667,9.41667,10.41667,11.54167,12.54167,13.79167][datum.f-1]","as":"a"},{"calculate":"[0,1,2,3.125,4.125,5.125,6.25,7.25,8.41667,9.41667,10.41667,11.54167,12.54167,13.79167][datum.l-1]+1","as":"b"}],"mark":{"type":"rect","fillOpacity":0,"stroke":"#666666","strokeWidth":1.5},
"encoding":{"x":{"field":"a","type":"quantitative","axis":null},"x2":{"field":"b"},"y":{"datum":0,"type":"quantitative","scale":{"domain":[0,1.05],"range":[185,143],"nice":false},"axis":null},"y2":{"datum":1.05}}},
{"data":{"name":"h1"},"transform":[{"calculate":"[0,1,2,3.125,4.125,5.125,6.25,7.25,8.41667,9.41667,10.41667,11.54167,12.54167,13.79167][datum.s-1]","as":"a"},{"calculate":"datum.a+1","as":"b"}],"mark":{"type":"rect"},
"encoding":{"x":{"field":"a","type":"quantitative","axis":null},"x2":{"field":"b"},
"y":{"field":"r","type":"ordinal","scale":{"range":[188,242],"paddingInner":0,"paddingOuter":0},"axis":{"orient":"left","labels":false,"ticks":false,"domain":false,"title":"1","titleFontWeight":"normal","titleFontSize":13,"titleX":10,"titleY":215,"titleBaseline":"middle","titleColor":"black"}},
"color":{"field":"v","type":"quantitative","scale":{"domain":[0,50,100],"range":["#0000ff","#ffffff","#ff0000"],"interpolate":"lab"},"legend":null}}},
{"data":{"name":"h2"},"transform":[{"calculate":"[0,1,2,3.125,4.125,5.125,6.25,7.25,8.41667,9.41667,10.41667,11.54167,12.54167,13.79167][datum.s-1]","as":"a"},{"calculate":"datum.a+1","as":"b"}],"mark":{"type":"rect"},
"encoding":{"x":{"field":"a","type":"quantitative","axis":null},"x2":{"field":"b"},
"y":{"field":"r","type":"ordinal","scale":{"range":[246,498],"paddingInner":0,"paddingOuter":0},"axis":{"orient":"left","labels":false,"ticks":false,"domain":false,"title":"2","titleFontWeight":"normal","titleFontSize":13,"titleX":10,"titleY":372,"titleBaseline":"middle","titleColor":"black"}},
"color":{"field":"v","type":"quantitative","scale":{"domain":[0,50,100],"range":["#0000ff","#ffffff","#ff0000"],"interpolate":"lab"},"legend":{"orient":"none","legendX":385,"legendY":264,"title":"Value","gradientLength":70,"gradientThickness":12,"values":[0,20,40,60,80,100],"labelExpr":"datum.value/100","titlePadding":6,"labelOffset":2,"encoding":{"labels":{"baseline":{"value":"middle"}}}}}}}
]}
